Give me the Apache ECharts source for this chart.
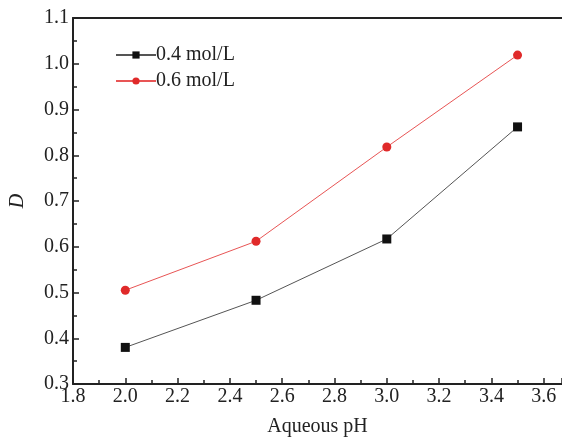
<!DOCTYPE html>
<html>
<head>
<meta charset="UTF-8">
<style>
  html, body { margin: 0; padding: 0; background: #fff; }
  #chart { width: 562px; height: 439px; }
</style>
</head>
<body>
<div id="chart"></div>
<script src="https://cdn.jsdelivr.net/npm/echarts@6/dist/echarts.min.js"></script>
<script>
  // data
  const ph = [2.0, 2.5, 3.0, 3.5];
  const d04 = [0.380, 0.483, 0.617, 0.862];
  const d06 = [0.505, 0.612, 0.818, 1.019];
  const seriesNames = ['0.4 mol/L', '0.6 mol/L'];

  const font = 'Liberation Serif, Times New Roman, serif';
  const chart = echarts.init(document.getElementById('chart'));

  const axisCommon = {
    axisLine: { lineStyle: { color: '#222', width: 2 } },
    axisTick: { inside: true, length: 6, lineStyle: { color: '#222', width: 1.5 } },
    minorTick: { show: true, splitNumber: 2, length: 4, lineStyle: { color: '#222', width: 1.5 } },
    splitLine: { show: false },
    axisLabel: { color: '#222', fontFamily: font, fontSize: 20 }
  };

  const option = {
    backgroundColor: '#fff',
    animation: false,
    grid: { left: 73, right: 0, top: 18, bottom: 55, outerBoundsMode: 'none', containLabel: false },
    legend: {
      left: 110, top: 40, orient: 'vertical',
      itemWidth: 40, itemHeight: 9, itemGap: 6,
      textStyle: { fontFamily: font, fontSize: 20, color: '#222', padding: [0, 0, 0, -5] },
      data: seriesNames
    },
    xAxis: [{
      ...axisCommon,
      type: 'value', min: 1.8, max: 3.67, interval: 0.2,
      name: 'Aqueous pH', nameLocation: 'middle', nameGap: 33,
      nameTextStyle: { fontFamily: font, fontSize: 20, color: '#222' },
      axisLabel: {
        ...axisCommon.axisLabel, margin: 3, showMaxLabel: false,
        formatter: v => v.toFixed(1)
      }
    }, {
      type: 'value', position: 'top', min: 1.8, max: 3.67,
      axisLine: { show: true, lineStyle: { color: '#222', width: 2 } },
      axisTick: { show: false }, axisLabel: { show: false }, splitLine: { show: false }
    }],
    yAxis: {
      ...axisCommon,
      type: 'value', min: 0.3, max: 1.1, interval: 0.1,
      name: 'D', nameLocation: 'middle', nameGap: 45, nameRotate: 90,
      nameTextStyle: { fontFamily: font, fontSize: 20, fontStyle: 'italic', color: '#222' },
      axisLabel: { ...axisCommon.axisLabel, margin: 4, formatter: v => v.toFixed(1) }
    },
    series: [{
      name: seriesNames[0], type: 'line',
      data: ph.map((x, i) => [x, d04[i]]),
      symbol: 'rect', symbolSize: 9,
      itemStyle: { color: '#111' },
      lineStyle: { color: '#555', width: 1 }
    }, {
      name: seriesNames[1], type: 'line',
      data: ph.map((x, i) => [x, d06[i]]),
      symbol: 'circle', symbolSize: 9,
      itemStyle: { color: '#e02a2a' },
      lineStyle: { color: '#e85555', width: 1 }
    }]
  };
  chart.setOption(option);
</script>
</body>
</html>
